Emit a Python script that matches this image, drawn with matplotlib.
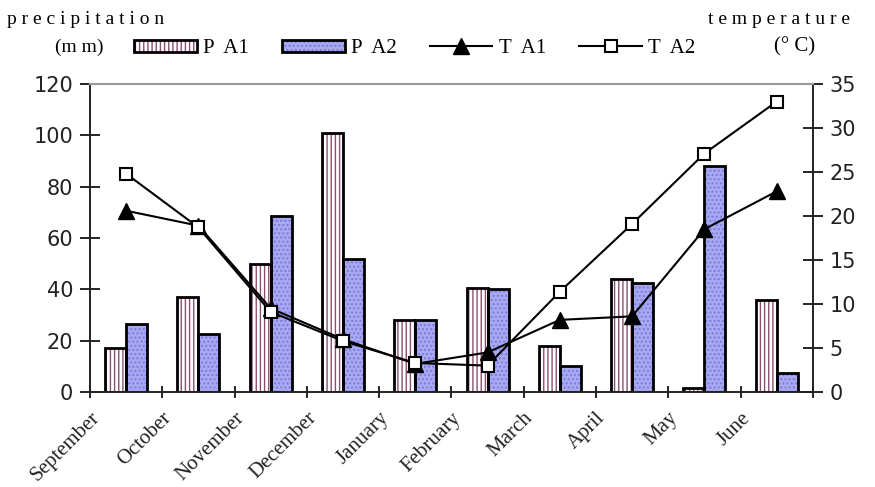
import numpy as np
import matplotlib
matplotlib.use("Agg")
import matplotlib.pyplot as plt
from matplotlib.patches import Patch
from matplotlib.lines import Line2D
from matplotlib.legend_handler import HandlerTuple

# ==========================================================
# DATA
# ==========================================================
months = ["September", "October", "November", "December", "January",
          "February", "March", "April", "May", "June"]

pa1 = [17, 37, 50, 101, 28, 40.5, 18, 44, 1.5, 36]      # precipitation A1 (mm)
pa2 = [26.5, 22.5, 68.5, 52, 28, 40, 10, 42.5, 88, 7.5]  # precipitation A2 (mm)
ta1 = [20.6, 18.9, 9.5, 6.0, 3.2, 4.5, 8.2, 8.6, 18.5, 22.8]  # temperature A1 (C)
ta2 = [24.8, 18.7, 9.1, 5.8, 3.3, 3.0, 11.4, 19.1, 27.1, 33.0]  # temperature A2 (C)

# ==========================================================
# FIGURE
# ==========================================================
plt.rcParams['hatch.linewidth'] = 1.0
fig = plt.figure(figsize=(8.75, 4.87), dpi=100)
ax = fig.add_axes([0.1029, 0.195, 0.826, 0.6325])
ax2 = ax.twinx()

x = np.arange(len(months))
w = 0.29

# bars: fill+hatch first, then black outline on top
ax.bar(x + 0.5 - w / 2, pa1, w, facecolor="white", edgecolor="#8a4f72",
       hatch="||||", linewidth=0)
ax.bar(x + 0.5 + w / 2, pa2, w, facecolor="#a9a9f2", edgecolor="#7a7ae0",
       hatch="....", linewidth=0)
ax.bar(x + 0.5 - w / 2, pa1, w, facecolor="none", edgecolor="black", linewidth=2)
ax.bar(x + 0.5 + w / 2, pa2, w, facecolor="none", edgecolor="black", linewidth=2)

# temperature lines
ax2.plot(x + 0.5, ta1, color="black", lw=1.5, marker="^", ms=11,
         mfc="black", mec="black")
ax2.plot(x + 0.5, ta2, color="black", lw=1.5, marker="s", ms=8,
         mfc="white", mec="black", mew=1.5)

# ==========================================================
# AXES
# ==========================================================
ax.set_xlim(0, 10)
ax.set_ylim(0, 120)
ax2.set_ylim(0, 35)
ax.set_yticks(range(0, 121, 20))
ax2.set_yticks(range(0, 36, 5))
ax.set_xticks(range(11))
ax.set_xticklabels(months + [""], rotation=45, ha="right",
                   rotation_mode="anchor", family="Liberation Serif",
                   fontsize=15, color="#222222")

for a in (ax, ax2):
    for s in a.spines.values():
        s.set_color("#222222")
        s.set_linewidth(1.2)
    a.spines["top"].set_color("#999999")
    a.spines["top"].set_linewidth(1.5)

ax.tick_params(axis="y", direction="inout", length=14, width=1.2,
               labelsize=15, labelcolor="#222222", pad=5)
ax2.tick_params(axis="y", direction="inout", length=14, width=1.2,
                labelsize=15, labelcolor="#222222", pad=5)
ax.tick_params(axis="x", direction="inout", length=8, width=1.2, pad=8)

# ==========================================================
# AXIS TITLES AND LEGEND
# ==========================================================
fig.text(0.008, 0.96, "p r e c i p i t a t i o n", family="Liberation Serif",
         fontsize=14, va="center", ha="left")
fig.text(0.063, 0.903, "(m m)", family="Liberation Serif",
         fontsize=14, va="center", ha="left")
fig.text(0.972, 0.96, "t e m p e r a t u r e", family="Liberation Serif",
         fontsize=14, va="center", ha="right")
fig.text(0.884, 0.903, "(° C)", family="Liberation Serif",
         fontsize=15, va="center", ha="left")

outline = dict(facecolor="none", edgecolor="black", lw=2)
handles = [
    (Patch(facecolor="white", edgecolor="#8a4f72", hatch="||||", lw=0), Patch(**outline)),
    (Patch(facecolor="#a9a9f2", edgecolor="#7a7ae0", hatch="....", lw=0), Patch(**outline)),
    Line2D([], [], color="black", lw=1.5, marker="^", ms=11),
    Line2D([], [], color="black", lw=1.5, marker="s", ms=8, mfc="white", mew=1.5),
]
labels = ["P  A1", "P  A2", "T  A1", "T  A2"]
leg = fig.legend(handles, labels, loc="center", ncol=4,
                 bbox_to_anchor=(0.474, 0.9), frameon=False,
                 prop={"family": "Liberation Serif", "size": 15},
                 handlelength=3.0, handletextpad=0.3, columnspacing=1.6,
                 handleheight=0.55,
                 handler_map={tuple: HandlerTuple(ndivide=1, pad=0)})

fig.savefig("out.png", dpi=100)
